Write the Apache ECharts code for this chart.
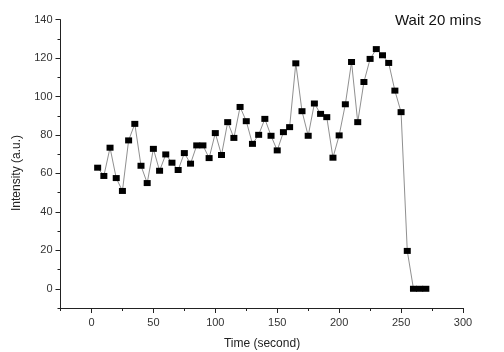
<!DOCTYPE html>
<html>
<head>
<meta charset="utf-8">
<script src="https://cdn.jsdelivr.net/npm/echarts@6/dist/echarts.min.js"></script>
<style>
  html, body { margin: 0; padding: 0; background: #fff; }
  #chart { width: 504px; height: 352px; }
</style>
</head>
<body>
<div id="chart"></div>
<script>
// Time points (s) and measured intensity (a.u.)
const times = [5, 10, 15, 20, 25, 30, 35, 40, 45, 50, 55, 60, 65, 70, 75, 80, 85, 90, 95, 100,
  105, 110, 115, 120, 125, 130, 135, 140, 145, 150, 155, 160, 165, 170, 175, 180, 185, 190, 195, 200,
  205, 210, 215, 220, 225, 230, 235, 240, 245, 250, 255, 260, 265, 270];
const intensity = [63.0, 58.7, 73.4, 57.6, 50.9, 77.2, 85.8, 64.0, 55.0, 72.8, 61.4, 69.9, 65.6, 61.8, 70.6, 65.1, 74.6, 74.6, 68.0, 81.0,
  69.6, 86.7, 78.5, 94.6, 87.2, 75.4, 80.1, 88.4, 79.6, 72.0, 81.5, 84.1, 117.3, 92.4, 79.6, 96.4, 91.0, 89.3, 68.2, 79.8,
  96.0, 118.0, 86.7, 107.6, 119.6, 124.7, 121.5, 117.5, 103.1, 91.9, 19.7, 0, 0, 0];

// Axis ticks (labelled and unlabelled)
const xMajorTicks = [0, 50, 100, 150, 200, 250, 300];
const xMinorTicks = [-25, 25, 75, 125, 175, 225, 275];
const yMajorTicks = [0, 20, 40, 60, 80, 100, 120, 140];
const yMinorTicks = [-10, 10, 30, 50, 70, 90, 110, 130];

const points = times.map((t, i) => [t, intensity[i]]);

const FONT = 'Liberation Sans, Arial, sans-serif';
const AXIS_COLOR = '#222';

function labelStyle(margin, values) {
  return { margin: margin, customValues: values, fontFamily: FONT, fontSize: 11, color: '#333' };
}

function tickAxis(min, max, position, values, len, withLine, label) {
  return {
    type: 'value', min: min, max: max, position: position,
    axisLine: { show: withLine, onZero: false, lineStyle: { color: AXIS_COLOR, width: 1 } },
    axisTick: { show: true, inside: false, length: len, customValues: values,
      lineStyle: { color: AXIS_COLOR, width: 1 } },
    axisLabel: label || { show: false },
    splitLine: { show: false }
  };
}

const xMain = tickAxis(-25, 300, 'bottom', xMajorTicks, 5, true, labelStyle(9, xMajorTicks));
const xSub = tickAxis(-25, 300, 'bottom', xMinorTicks, 3, false, null);
const yMain = tickAxis(-10, 140, 'left', yMajorTicks, 5, true, labelStyle(8, yMajorTicks));
const ySub = tickAxis(-10, 140, 'left', yMinorTicks, 3, false, null);

const chart = echarts.init(document.getElementById('chart'), null, { renderer: 'canvas' });
chart.setOption({
  animation: false,
  backgroundColor: '#fff',
  grid: { left: 60.5, right: 41, top: 19.7, bottom: 44, containLabel: false },
  xAxis: [xMain, xSub],
  yAxis: [yMain, ySub],
  graphic: [
    {
      type: 'text', left: 395, top: 13,
      style: { text: 'Wait 20 mins', fontFamily: FONT, fontSize: 15, fill: '#111' }
    },
    {
      type: 'text', x: 17, y: 173, rotation: Math.PI / 2,
      style: { text: 'Intensity (a.u.)', fontFamily: FONT, fontSize: 12, fill: '#222',
        align: 'center', verticalAlign: 'middle' }
    },
    {
      type: 'text', x: 262, y: 344,
      style: { text: 'Time (second)', fontFamily: FONT, fontSize: 12, fill: '#222',
        align: 'center', verticalAlign: 'middle' }
    }
  ],
  series: [
    {
      type: 'line',
      xAxisIndex: 0, yAxisIndex: 0,
      data: points,
      symbol: 'rect',
      symbolSize: [7, 6],
      itemStyle: { color: '#000', borderWidth: 0 },
      lineStyle: { color: '#909090', width: 1 },
      emphasis: { disabled: true }
    }
  ]
});
</script>
</body>
</html>
